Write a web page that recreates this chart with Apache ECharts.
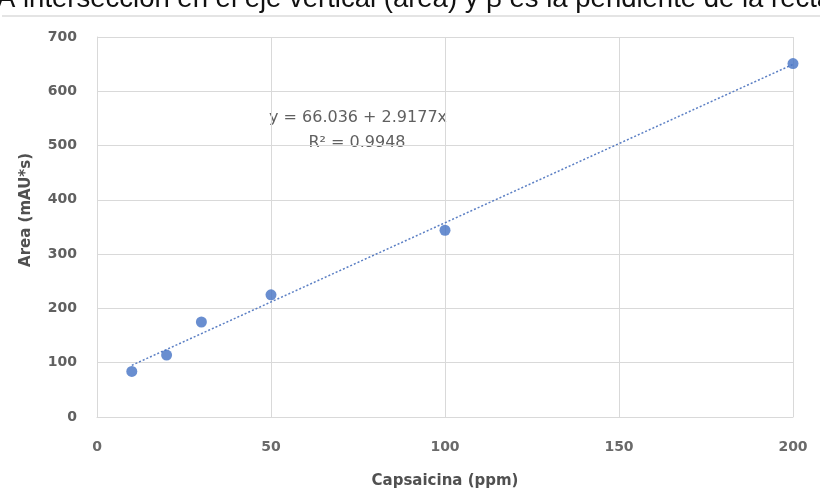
<!DOCTYPE html>
<html>
<head>
<meta charset="utf-8">
<script src="https://cdn.jsdelivr.net/npm/echarts@6/dist/echarts.min.js"></script>
<style>html,body{margin:0;padding:0;background:#fff}#c{width:820px;height:494px}</style>
</head>
<body>
<div id="c"></div>
<script>
const topText = "A intersección en el eje vertical (área) y β es la pendiente de la recta";
const xTitle = "Capsaicina (ppm)";
const yTitle = "Area (mAU*s)";
const concentration = [10, 20, 30, 50, 100, 200];
const area = [84, 114, 175, 225, 344, 651];
const intercept = 66.036;
const slope = 2.9177;
const r2 = 0.9948;
const xTicks = [0, 50, 100, 150, 200];
const yTicks = [0, 100, 200, 300, 400, 500, 600, 700];

const points = concentration.map((x, i) => [x, area[i]]);
const xMin = Math.min(...concentration), xMaxD = Math.max(...concentration);
const trend = [[xMin, intercept + slope * xMin], [xMaxD, intercept + slope * xMaxD]];

const chart = echarts.init(document.getElementById('c'), null, {renderer: 'canvas'});
const labelFont = 'DejaVu Sans, sans-serif';
chart.setOption({
  animation: false,
  grid: {left: 97, right: 27, top: 37, bottom: 75},
  xAxis: {
    type: 'value', min: xTicks[0], max: xTicks[xTicks.length - 1], interval: 50,
    name: xTitle, nameLocation: 'middle', nameGap: 57,
    nameTextStyle: {fontFamily: labelFont, fontWeight: 'bold', fontSize: 15, color: '#505050'},
    axisLine: {show: true, lineStyle: {color: '#d9d9d9'}},
    axisTick: {show: false},
    axisLabel: {margin: 23, fontFamily: labelFont, fontWeight: 'bold', fontSize: 14, color: '#6a6a6a'},
    splitLine: {show: true, lineStyle: {color: '#d9d9d9', width: 1}}
  },
  yAxis: {
    type: 'value', min: yTicks[0], max: yTicks[yTicks.length - 1], interval: 100,
    name: yTitle, nameLocation: 'middle', nameGap: 63, nameRotate: 90,
    nameTextStyle: {fontFamily: labelFont, fontWeight: 'bold', fontSize: 15, color: '#505050', padding: [0, 0, 0, 34]},
    axisLine: {show: true, lineStyle: {color: '#d9d9d9'}},
    axisTick: {show: false},
    axisLabel: {margin: 20, fontFamily: labelFont, fontWeight: 'bold', fontSize: 14, color: '#606060'},
    splitLine: {show: true, lineStyle: {color: '#d9d9d9', width: 1}}
  },
  series: [
    {
      type: 'line', data: trend, symbol: 'none', silent: true,
      lineStyle: {color: '#5b7fc4', width: 1.5, type: [2, 2]}, z: 2
    },
    {
      type: 'scatter', data: points, symbol: 'circle', symbolSize: 11,
      itemStyle: {color: '#4472C4'}, z: 3
    }
  ],
  graphic: [
    {type: 'text', x: -3, y: -1, style: {text: topText, font: '27.5px Liberation Sans, Arial, sans-serif', fill: '#111', textVerticalAlign: 'middle'}},
    {type: 'line', shape: {x1: 2, y1: 16, x2: 820, y2: 16}, style: {stroke: '#e4e4e4', lineWidth: 2}},
    {type: 'text', x: 358, y: 118, style: {text: 'y = ' + intercept + ' + ' + slope + 'x', font: '16px DejaVu Sans, sans-serif', fill: '#606060', textAlign: 'center', textVerticalAlign: 'middle'}},
    {type: 'text', x: 357, y: 143, style: {text: 'R² = ' + r2, font: '16px DejaVu Sans, sans-serif', fill: '#606060', textAlign: 'center', textVerticalAlign: 'middle'}}
  ]
});
</script>
</body>
</html>
